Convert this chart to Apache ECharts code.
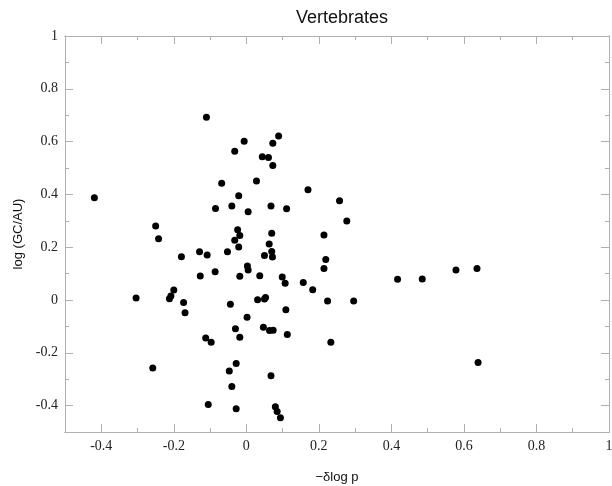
<!DOCTYPE html>
<html>
<head>
<meta charset="UTF-8">
<title>Vertebrates</title>
<script src="https://cdn.jsdelivr.net/npm/echarts@6/dist/echarts.min.js"></script>
<style>
  body { margin: 0; background: #fff; }
  #main { width: 612px; height: 486px; }
</style>
</head>
<body>
<div id="main"></div>
<script type="text/javascript">
// -delta log p (x) and log(GC/AU) (y)
var deltaLogP = [
  -0.419, -0.110, 0.089, -0.006, 0.073, -0.032, 0.044, 0.061, 0.073, -0.068,
  0.028, 0.170, 0.257, -0.021, -0.040, -0.085, 0.005, 0.068, 0.111, -0.250,
  -0.242, -0.024, -0.018, -0.032, -0.021, 0.070, 0.063, 0.050, 0.070, 0.072,
  0.214, 0.219, 0.214, -0.179, -0.129, -0.108, -0.052, 0.003, 0.005, -0.086,
  -0.127, -0.018, 0.037, 0.099, 0.107, 0.157, 0.183, 0.224, -0.200, -0.208,
  -0.212, -0.304, -0.173, -0.169, -0.044, 0.031, 0.050, 0.053, 0.109, 0.002,
  -0.030, -0.018, 0.047, 0.064, 0.074, 0.113, -0.112, -0.097, 0.233, -0.258,
  -0.028, -0.047, -0.040, 0.068, -0.105, -0.028, 0.080, 0.085, 0.094, 0.277,
  0.296, 0.417, 0.485, 0.578, 0.636, 0.639
];
var logGcAu = [
  0.387, 0.692, 0.621, 0.601, 0.594, 0.563, 0.543, 0.540, 0.509, 0.442,
  0.451, 0.418, 0.376, 0.395, 0.356, 0.347, 0.334, 0.356, 0.346, 0.280,
  0.232, 0.266, 0.244, 0.226, 0.201, 0.253, 0.212, 0.169, 0.184, 0.163,
  0.246, 0.153, 0.119, 0.164, 0.183, 0.170, 0.183, 0.129, 0.114, 0.107,
  0.091, 0.090, 0.092, 0.087, 0.063, 0.066, 0.039, -0.004, 0.038, 0.015,
  0.005, 0.008, -0.009, -0.048, -0.016, 0.001, 0.004, 0.009, -0.037, -0.065,
  -0.109, -0.141, -0.103, -0.116, -0.115, -0.131, -0.144, -0.160, -0.160, -0.258,
  -0.241, -0.269, -0.328, -0.287, -0.396, -0.412, -0.404, -0.422, -0.446, 0.299,
  -0.004, 0.079, 0.080, 0.114, 0.119, -0.237
];

var xMajor = [-0.4, -0.2, 0, 0.2, 0.4, 0.6, 0.8, 1];
var xMinor = [-0.3, -0.1, 0.1, 0.3, 0.5, 0.7, 0.9];
var yMajor = [-0.4, -0.2, 0, 0.2, 0.4, 0.6, 0.8, 1];
var yMinor = [-0.5, -0.3, -0.1, 0.1, 0.3, 0.5, 0.7, 0.9];

var points = [];
for (var i = 0; i < deltaLogP.length; i++) {
    points.push([deltaLogP[i], logGcAu[i]]);
}

var frameColor = '#b0b0b0';
var labelFont = {
    fontFamily: 'Liberation Serif',
    fontSize: 14,
    color: '#222'
};

function fmt(v) {
    return String(Math.round(v * 10) / 10);
}

// one axis of the frame: major ticks + labels, or minor ticks only
function xAx(pos, ticks, len, labels) {
    return {
        type: 'value', position: pos, min: -0.5, max: 1, interval: 0.1,
        splitLine: { show: false },
        axisLine: { show: true, onZero: false, lineStyle: { color: frameColor, width: 1 } },
        axisTick: { show: true, inside: true, length: len, customValues: ticks,
            lineStyle: { color: frameColor, width: 1 } },
        axisLabel: labels ? Object.assign({ show: true, customValues: xMajor, margin: 7,
            formatter: fmt }, labelFont) : { show: false }
    };
}
function yAx(pos, ticks, len, labels) {
    return {
        type: 'value', position: pos, min: -0.5, max: 1, interval: 0.1,
        splitLine: { show: false },
        axisLine: { show: true, onZero: false, lineStyle: { color: frameColor, width: 1 } },
        axisTick: { show: true, inside: true, length: len, customValues: ticks,
            lineStyle: { color: frameColor, width: 1 } },
        axisLabel: labels ? Object.assign({ show: true, customValues: yMajor, margin: 7,
            formatter: fmt }, labelFont) : { show: false }
    };
}

var xAxes = [
    xAx('bottom', xMajor, 8, true),
    xAx('bottom', xMinor, 4, false),
    xAx('top', xMajor, 8, false),
    xAx('top', xMinor, 4, false)
];
xAxes[0].name = '\u2212\u03b4log p';
xAxes[0].nameLocation = 'middle';
xAxes[0].nameGap = 39;
xAxes[0].nameTextStyle = { fontFamily: 'Liberation Sans', fontSize: 13, color: '#111' };

var yAxes = [
    yAx('left', yMajor, 8, true),
    yAx('left', yMinor, 4, false),
    yAx('right', yMajor, 8, false),
    yAx('right', yMinor, 4, false)
];
yAxes[0].name = 'log (GC/AU)';
yAxes[0].nameLocation = 'middle';
yAxes[0].nameGap = 30;
yAxes[0].nameTextStyle = { fontFamily: 'Liberation Sans', fontSize: 13, color: '#111' };

var myChart = echarts.init(document.getElementById('main'));
myChart.setOption({
    animation: false,
    backgroundColor: '#fff',
    title: {
        text: 'Vertebrates',
        left: 337, top: 4, textAlign: 'center',
        textStyle: { fontFamily: 'Liberation Sans', fontSize: 18, fontWeight: 'normal', color: '#111' }
    },
    grid: { left: 65, right: 3, top: 36, bottom: 54, containLabel: false, outerBoundsMode: 'none' },
    xAxis: xAxes,
    yAxis: yAxes,
    series: [{
        type: 'scatter',
        xAxisIndex: 0,
        yAxisIndex: 0,
        symbolSize: 7,
        itemStyle: { color: '#000', opacity: 1 },
        data: points
    }]
});
</script>
</body>
</html>
